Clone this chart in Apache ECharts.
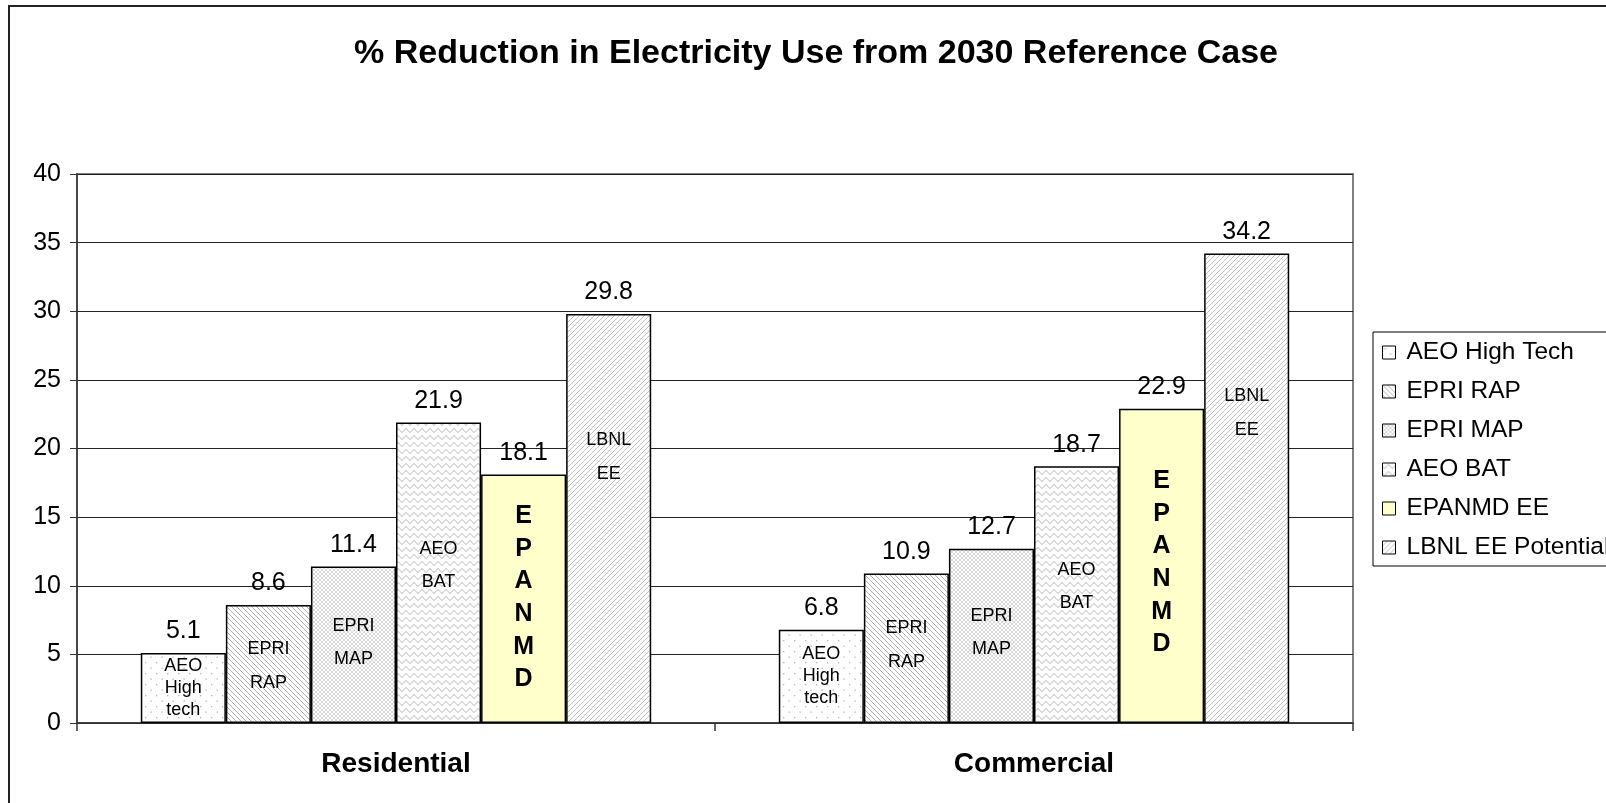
<!DOCTYPE html>
<html>
<head>
<meta charset="utf-8">
<title>% Reduction in Electricity Use from 2030 Reference Case</title>
<script src="https://cdn.jsdelivr.net/npm/echarts@6/dist/echarts.min.js"></script>
<style>
  html, body { margin: 0; padding: 0; background: #ffffff; }
  #chart { width: 1606px; height: 803px; }
</style>
</head>
<body>
<div id="chart"></div>
<script>
// ---- data ----
const categories = ['Residential', 'Commercial'];
const seriesNames = ['AEO High Tech', 'EPRI RAP', 'EPRI MAP', 'AEO BAT', 'EPANMD EE', 'LBNL EE Potential'];
const aeoHighTech = [5.1, 6.8];
const epriRap = [8.6, 10.9];
const epriMap = [11.4, 12.7];
const aeoBat = [21.9, 18.7];
const epanmdEe = [18.1, 22.9];
const lbnlEePotential = [29.8, 34.2];
const barTags = ['AEO\nHigh\ntech', 'EPRI\nRAP', 'EPRI\nMAP', 'AEO\nBAT', 'E\nP\nA\nN\nM\nD', 'LBNL\nEE'];
const yMin = 0, yMax = 40, yStep = 5;

const valueSets = [aeoHighTech, epriRap, epriMap, aeoBat, epanmdEe, lbnlEePotential];

// ---- styling ----
const FONT = '"Liberation Sans", Arial, Helvetica, sans-serif';

// small repeating canvas tiles used as hatch fills
function tile(w, h, draw) {
  const c = document.createElement('canvas');
  c.width = w; c.height = h;
  const g = c.getContext('2d');
  g.fillStyle = '#ffffff';
  g.fillRect(0, 0, w, h);
  draw(g, w, h);
  return { image: c, repeat: 'repeat' };
}
function downDiag(g, s) {
  g.beginPath();
  g.moveTo(-1, -1); g.lineTo(s + 1, s + 1);
  g.moveTo(-1, s - 1); g.lineTo(1, s + 1);
  g.moveTo(s - 1, -1); g.lineTo(s + 1, 1);
  g.stroke();
}
function upDiag(g, s) {
  g.beginPath();
  g.moveTo(-1, s + 1); g.lineTo(s + 1, -1);
  g.moveTo(-1, 1); g.lineTo(1, -1);
  g.moveTo(s - 1, s + 1); g.lineTo(s + 1, s - 1);
  g.stroke();
}
const fills = [
  // sparse dots
  tile(11, 11, (g) => {
    g.fillStyle = '#b4b4b4';
    g.fillRect(2, 2, 1.3, 1.3);
    g.fillRect(7.5, 7.5, 1.3, 1.3);
  }),
  // downward diagonal lines
  tile(5, 5, (g, w) => { g.strokeStyle = '#b2b2b2'; g.lineWidth = 1; downDiag(g, w); }),
  // fine diagonal cross-hatch
  tile(4, 4, (g, w) => {
    g.strokeStyle = '#cdcdcd'; g.lineWidth = 0.8;
    downDiag(g, w); upDiag(g, w);
  }),
  // horizontal waves
  tile(8, 7, (g, w) => {
    g.strokeStyle = '#b4b4b4'; g.lineWidth = 1;
    g.beginPath();
    for (let x = -1; x <= w + 1; x += 0.5) {
      const y = 3.5 + 1.8 * Math.sin((x / w) * Math.PI * 2);
      if (x === -1) g.moveTo(x, y); else g.lineTo(x, y);
    }
    g.stroke();
  }),
  // solid light yellow
  '#ffffcc',
  // light upward diagonal lines
  tile(5, 5, (g, w) => { g.strokeStyle = '#c2c2c2'; g.lineWidth = 1; upDiag(g, w); })
];

// label styles for the text written inside each bar
const tagStyles = [
  { fontSize: 18, lineHeight: 22, fontWeight: 'normal' },
  { fontSize: 18, lineHeight: 34, fontWeight: 'normal' },
  { fontSize: 18, lineHeight: 33, fontWeight: 'normal' },
  { fontSize: 18, lineHeight: 33, fontWeight: 'normal' },
  { fontSize: 25, lineHeight: 32.6, fontWeight: 'bold' },
  { fontSize: 18, lineHeight: 34, fontWeight: 'normal' }
];
// vertical nudges of the inside text, per series and category
const tagShift = [[0, 0], [2, -3], [-2, -3], [-7, -8], [-1, -3], [-61, -75]];

const barLayout = { barGap: '0%', barCategoryGap: '20%' };

const series = [];
// visible bars with their value labels
valueSets.forEach((vals, i) => {
  series.push(Object.assign({
    type: 'bar',
    name: seriesNames[i],
    xAxisIndex: 0,
    yAxisIndex: 0,
    data: vals,
    itemStyle: { color: fills[i], borderColor: '#000000', borderWidth: 1.5 },
    label: {
      show: true, position: 'top', distance: 9,
      fontFamily: FONT, fontSize: 25, color: '#000000',
      formatter: (p) => p.value.toFixed(1)
    }
  }, barLayout));
});
// identical transparent bars on an overlaid category axis carrying the inside text
valueSets.forEach((vals, i) => {
  series.push(Object.assign({
    type: 'bar',
    name: seriesNames[i],
    xAxisIndex: 1,
    yAxisIndex: 0,
    silent: true,
    data: vals.map((v, j) => ({ value: v, label: { offset: [0, tagShift[i][j]] } })),
    itemStyle: { color: 'rgba(0,0,0,0)', borderWidth: 0 },
    label: Object.assign({
      show: true, position: 'inside', formatter: barTags[i],
      fontFamily: FONT, color: '#000000', align: 'center'
    }, tagStyles[i])
  }, barLayout));
});

const chart = echarts.init(document.getElementById('chart'), null, { renderer: 'canvas' });
chart.setOption({
  animation: false,
  backgroundColor: '#ffffff',
  textStyle: { fontFamily: FONT },
  title: {
    text: '% Reduction in Electricity Use from 2030 Reference Case',
    left: 811, top: 32, textAlign: 'center',
    textStyle: { fontFamily: FONT, fontSize: 34, fontWeight: 'bold', color: '#000000' }
  },
  graphic: [{
    type: 'rect', silent: true, z: -1,
    shape: { x: 9, y: 6, width: 1800, height: 1000 },
    style: { fill: 'none', stroke: '#222222', lineWidth: 2 }
  }],
  legend: {
    orient: 'vertical',
    left: 1373, top: 332,
    padding: [8, 40, 6, 9],
    borderColor: '#000000', borderWidth: 1,
    itemWidth: 13, itemHeight: 13, itemGap: 14,
    icon: 'rect',
    itemStyle: { borderColor: '#000000', borderWidth: 1 },
    data: seriesNames,
    selectedMode: false,
    textStyle: { fontFamily: FONT, fontSize: 24.5, lineHeight: 25, color: '#000000', padding: [0, 0, 0, 6] }
  },
  grid: {
    left: 77, right: 253, top: 174, bottom: 80,
    show: true, borderColor: '#808080', borderWidth: 2, backgroundColor: 'transparent'
  },
  xAxis: [{
    type: 'category', data: categories, position: 'bottom',
    axisLine: { lineStyle: { color: '#333333', width: 1.5 } },
    axisTick: { show: true, length: 8, lineStyle: { color: '#333333', width: 1.5 } },
    axisLabel: { fontFamily: FONT, fontSize: 28, fontWeight: 'bold', color: '#000000', margin: 27 }
  }, {
    type: 'category', data: categories, position: 'bottom', show: false
  }],
  yAxis: {
    type: 'value', min: yMin, max: yMax, interval: yStep,
    axisLine: { show: true, lineStyle: { color: '#333333', width: 1.5 } },
    axisTick: { show: true, length: 7, lineStyle: { color: '#333333' } },
    splitLine: { lineStyle: { color: '#222222', width: 1 } },
    axisLabel: { fontFamily: FONT, fontSize: 25, color: '#000000', margin: 16 }
  },
  series: series
});
</script>
</body>
</html>
